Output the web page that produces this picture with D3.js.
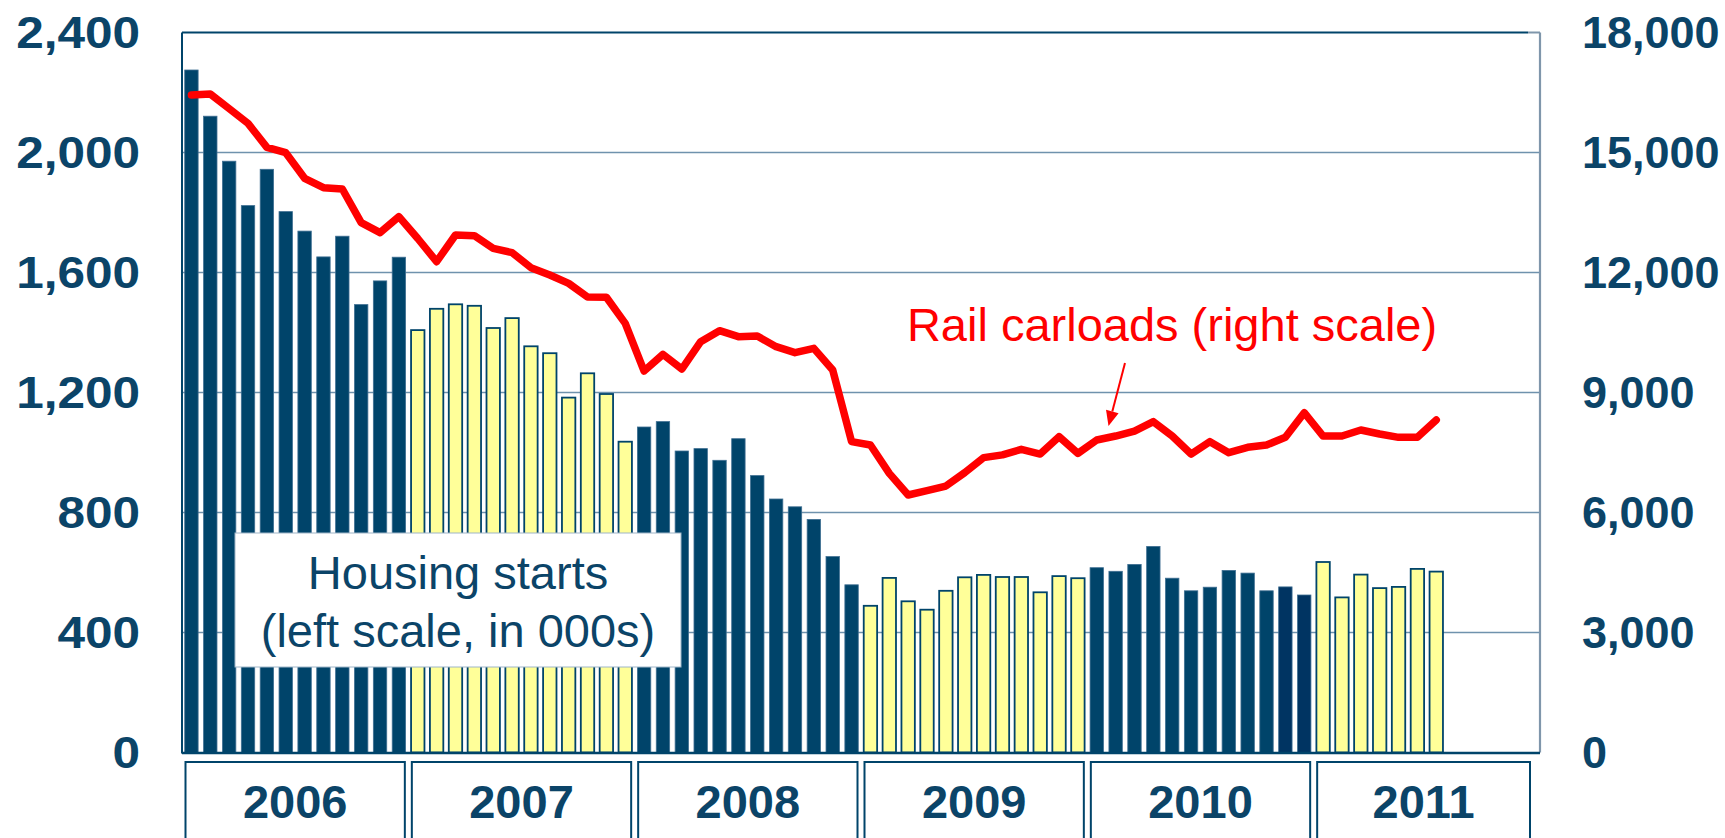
<!DOCTYPE html>
<html>
<head>
<meta charset="utf-8">
<script src="https://cdn.jsdelivr.net/npm/d3@7"></script>
<style>
  html, body { margin: 0; padding: 0; background: #ffffff; }
  svg { display: block; }
  text { font-family: "Liberation Sans", Arial, Helvetica, sans-serif; }
</style>
</head>
<body>
<svg id="chart" width="1725" height="838"></svg>
<script>
// ---------- DATA ----------
const years = ["2006", "2007", "2008", "2009", "2010", "2011"];
const monthsPerYear = 12;

// Housing starts, thousands (left scale), Jan 2006 - Jul 2011
const housingStarts = [
  2275, 2121, 1971, 1823, 1944, 1803, 1738, 1652, 1721, 1493, 1572, 1651,
  1408, 1479, 1494, 1489, 1415, 1448, 1354, 1331, 1183, 1264, 1195, 1036,
  1085, 1103, 1005, 1013,  974, 1046,  923,  845,  819,  777,  653,  559,
   489,  582,  504,  476,  539,  584,  592,  585,  585,  534,  588,  581,
   616,  604,  627,  687,  581,  539,  551,  607,  598,  539,  552,  525,
   635,  517,  593,  548,  552,  612,  603
];

// Rail carloads (right scale), Jan 2006 - Jul 2011
const railCarloads = [
  16437, 16462, 16096, 15729, 15129, 14996, 14354, 14121, 14087, 13246, 12996, 13396,
  12850, 12271, 12938, 12921, 12604, 12496, 12121, 11937, 11729, 11387, 11380, 10729,
   9537,  9954,  9587, 10271, 10546, 10396, 10412, 10146,  9996, 10104,  9562,  7771,
   7687,  6979,  6437,  6546,  6662,  6996,  7371,  7440,  7579,  7462,  7896,  7479,
   7812,  7912,  8037,  8271,  7912,  7462,  7771,  7496,  7629,  7687,  7879,  8496,
   7912,  7912,  8062,  7962,  7879,  7879,  8312
];

const leftTicks = [0, 400, 800, 1200, 1600, 2000, 2400];
const rightTicks = [0, 3000, 6000, 9000, 12000, 15000, 18000];

const housingLabel = ["Housing starts", "(left scale, in 000s)"];
const railLabel = "Rail carloads (right scale)";

// ---------- LAYOUT ----------
const navy = "#00446a";
const navyDark = "#003462";
const textNavy = "#0b4468";
const yellow = "#ffff99";
const red = "#ff0000";
const gridColor = "#6f92ad";

const plot = { left: 182, right: 1540, top: 32.5, bottom: 752.5 };

const svg = d3.select("#chart");
svg.append("rect").attr("width", 1725).attr("height", 838).attr("fill", "#fff");

// all month slots (6 full years)
const slots = [];
years.forEach(y => { for (let m = 0; m < monthsPerYear; m++) slots.push(y + "-" + (m + 1)); });

const x = d3.scaleBand().domain(slots).range([plot.left, plot.right]).paddingInner(0.29).paddingOuter(0.145);
const xCenter = i => x(slots[i]) + x.bandwidth() / 2;
const slotW = (plot.right - plot.left) / slots.length;

const yL = d3.scaleLinear().domain([0, 2400]).range([plot.bottom, plot.top]);
const yR = d3.scaleLinear().domain([0, 18000]).range([plot.bottom, plot.top]);

// gridlines
svg.append("g").selectAll("line").data(leftTicks.filter(t => t > 0 && t < 2400)).join("line")
  .attr("x1", plot.left).attr("x2", plot.right)
  .attr("y1", d => yL(d)).attr("y2", d => yL(d))
  .attr("stroke", gridColor).attr("stroke-width", 1.7);

// bars
const barData = housingStarts.map((v, i) => ({ v, i, yearIdx: Math.floor(i / monthsPerYear) }));
svg.append("g").selectAll("rect").data(barData).join("rect")
  .attr("x", d => x(slots[d.i]))
  .attr("width", x.bandwidth())
  .attr("y", d => yL(d.v))
  .attr("height", d => yL(0) - yL(d.v))
  .attr("fill", d => d.yearIdx % 2 === 0 ? ((d.i === 58 || d.i === 59) ? navyDark : navy) : yellow)
  .attr("stroke", d => d.yearIdx % 2 === 0 ? "#3f6f92" : navy)
  .attr("stroke-width", d => d.yearIdx % 2 === 0 ? 0.8 : 1.8);

// frame
const frame = svg.append("g");
frame.append("line").attr("x1", plot.left).attr("x2", plot.right - 12).attr("y1", plot.top).attr("y2", plot.top)
  .attr("stroke", navy).attr("stroke-width", 2);
frame.append("line").attr("x1", plot.right - 12).attr("x2", plot.right).attr("y1", plot.top).attr("y2", plot.top)
  .attr("stroke", "#7f96ab").attr("stroke-width", 2);
frame.append("line").attr("x1", plot.right).attr("x2", plot.right).attr("y1", plot.top).attr("y2", plot.bottom)
  .attr("stroke", "#7f96ab").attr("stroke-width", 2.2);
frame.append("line").attr("x1", plot.left).attr("x2", plot.left).attr("y1", plot.top).attr("y2", plot.bottom + 1)
  .attr("stroke", navy).attr("stroke-width", 2);
frame.append("line").attr("x1", plot.left).attr("x2", plot.right).attr("y1", plot.bottom + 0.5).attr("y2", plot.bottom + 0.5)
  .attr("stroke", navy).attr("stroke-width", 2.4);

// rail line
const line = d3.line().x((d, i) => xCenter(i)).y(d => yR(d)).curve(d3.curveLinear);
svg.append("path").datum(railCarloads)
  .attr("d", line).attr("fill", "none").attr("stroke", red)
  .attr("stroke-width", 7.5).attr("stroke-linejoin", "round").attr("stroke-linecap", "round");

// left axis labels (slightly wide lettering, as in the original)
svg.append("g").selectAll("text").data(leftTicks).join("text")
  .attr("transform", d => `translate(140,${yL(d) + 15}) scale(1.1,1)`)
  .attr("text-anchor", "end").attr("font-size", 45).attr("font-weight", "bold")
  .attr("fill", textNavy).text(d => d3.format(",")(d));

// right axis labels
svg.append("g").selectAll("text").data(rightTicks).join("text")
  .attr("x", 1582).attr("y", d => yR(d)).attr("dy", 15)
  .attr("text-anchor", "start").attr("font-size", 45).attr("font-weight", "bold")
  .attr("fill", textNavy).text(d => d3.format(",")(d));

// year boxes
const yb = svg.append("g");
years.forEach((yr, k) => {
  const x0 = plot.left + k * monthsPerYear * slotW + 3.5;
  const x1 = Math.min(plot.left + (k + 1) * monthsPerYear * slotW - 3.5, plot.right - 10);
  yb.append("rect").attr("x", x0).attr("y", 762).attr("width", x1 - x0).attr("height", 100)
    .attr("fill", "#fff").attr("stroke", navy).attr("stroke-width", 2);
  yb.append("text").attr("x", (x0 + x1) / 2).attr("y", 818)
    .attr("text-anchor", "middle").attr("font-size", 47).attr("font-weight", "bold")
    .attr("fill", textNavy).text(yr);
});

// Housing starts label box
const hb = svg.append("g");
hb.append("rect").attr("x", 235).attr("y", 533).attr("width", 446).attr("height", 134)
  .attr("fill", "#fff").attr("stroke", "#9fb6c8").attr("stroke-width", 1);
hb.selectAll("text").data(housingLabel).join("text")
  .attr("x", 458).attr("y", (d, i) => 589 + i * 57.5)
  .attr("text-anchor", "middle").attr("font-size", 47)
  .attr("fill", textNavy).text(d => d);

// Rail carloads label + arrow
svg.append("text").attr("x", 1172).attr("y", 340.5).attr("text-anchor", "middle")
  .attr("font-size", 47).attr("fill", red).text(railLabel);

const ax0 = 1125, ay0 = 363, ax1 = 1108.5, ay1 = 426;
const ang = Math.atan2(ay1 - ay0, ax1 - ax0);
const headLen = 15, headW = 6.5;
const bx = ax1 - headLen * Math.cos(ang), by = ay1 - headLen * Math.sin(ang);
svg.append("line").attr("x1", ax0).attr("y1", ay0).attr("x2", bx).attr("y2", by)
  .attr("stroke", red).attr("stroke-width", 2);
svg.append("path")
  .attr("d", `M${ax1},${ay1} L${bx + headW * Math.sin(ang)},${by - headW * Math.cos(ang)} L${bx - headW * Math.sin(ang)},${by + headW * Math.cos(ang)} Z`)
  .attr("fill", red);
</script>
</body>
</html>
